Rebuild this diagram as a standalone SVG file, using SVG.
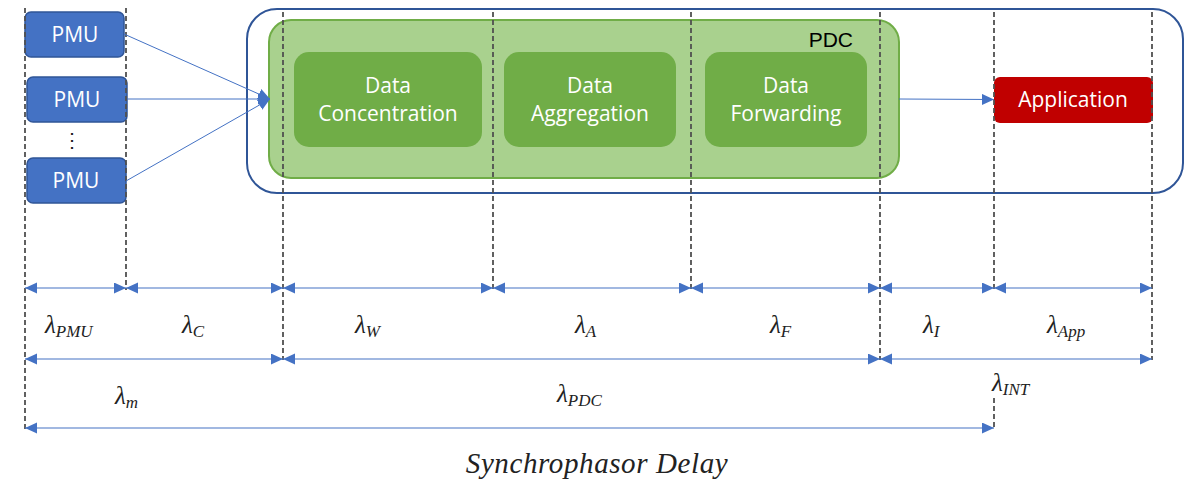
<svg xmlns="http://www.w3.org/2000/svg" width="1192" height="482" viewBox="0 0 1192 482">
<defs>
<marker id="ah" markerUnits="userSpaceOnUse" markerWidth="13" markerHeight="12" refX="12" refY="5.5" orient="auto-start-reverse">
<path d="M0,0 L12,5.5 L0,11 z" fill="#4472C4"/>
</marker>
</defs>
<style>
.dash{stroke:#505050;stroke-width:1.8;stroke-dasharray:5,3;fill:none}
.dim{stroke:#4472C4;stroke-width:1.2;fill:none;marker-start:url(#ah);marker-end:url(#ah)}
.con{stroke:#4472C4;stroke-width:1;fill:none;marker-end:url(#ah)}
.pmu{fill:#4472C4;stroke:#2F5597;stroke-width:1.5}
.wt{font-family:"Open Sans","Noto Sans",sans-serif;font-size:21px;fill:#fff;text-anchor:middle}
.sub{fill:#70AD47}
.lam{font-family:"Liberation Serif","DejaVu Serif",serif;font-style:italic;font-size:25px;fill:#222}
.lam tspan.s{font-size:17px}
</style>
<g id="outer">
<rect x="247" y="9" width="936" height="184" rx="30" fill="none" stroke="#2F5597" stroke-width="2"/>
</g>
<g id="pdc">
<rect x="269" y="20" width="630" height="158" rx="22" fill="#A9D18E" stroke="#70AD47" stroke-width="2"/>
<text x="853" y="47" text-anchor="end" font-family="Liberation Sans,Arial,sans-serif" font-size="21" fill="#000">PDC</text>
</g>
<g id="concentration">
<rect class="sub" x="294" y="52" width="188" height="95" rx="15"/>
<text class="wt" x="388" y="93">Data</text>
<text class="wt" x="388" y="121">Concentration</text>
</g>
<g id="aggregation">
<rect class="sub" x="504" y="52" width="172" height="95" rx="15"/>
<text class="wt" x="590" y="93">Data</text>
<text class="wt" x="590" y="121">Aggregation</text>
</g>
<g id="forwarding">
<rect class="sub" x="705" y="52" width="162" height="95" rx="15"/>
<text class="wt" x="786" y="93">Data</text>
<text class="wt" x="786" y="121">Forwarding</text>
</g>
<g id="application">
<rect x="994" y="77" width="159" height="46" rx="6" fill="#C00000"/>
<text class="wt" x="1073" y="107">Application</text>
</g>
<g id="pmu1">
<rect class="pmu" x="25" y="12" width="99" height="45" rx="6"/>
<text class="wt" x="75" y="42">PMU</text>
</g>
<g id="pmu2">
<rect class="pmu" x="27" y="77" width="100" height="45" rx="6"/>
<text class="wt" x="77" y="107">PMU</text>
</g>
<g id="dots">
<text x="72" y="147" text-anchor="middle" font-family="Liberation Sans,Arial,sans-serif" font-size="20" fill="#222">⋮</text>
</g>
<g id="pmu3">
<rect class="pmu" x="27" y="158" width="99" height="45" rx="6"/>
<text class="wt" x="76" y="188">PMU</text>
</g>
<g id="guides">
<line class="dash" x1="25" y1="8" x2="25" y2="430"/>
<line class="dash" x1="126" y1="8" x2="126" y2="290"/>
<line class="dash" x1="283" y1="12" x2="283" y2="360"/>
<line class="dash" x1="493" y1="12" x2="493" y2="290"/>
<line class="dash" x1="691" y1="12" x2="691" y2="290"/>
<line class="dash" x1="880" y1="12" x2="880" y2="360"/>
<line class="dash" x1="994" y1="12" x2="994" y2="290"/>
<line class="dash" x1="1152" y1="12" x2="1152" y2="360"/>
<line class="dash" x1="994" y1="398" x2="994" y2="428"/>
</g>
<g id="connectors">
<line class="con" x1="124" y1="34" x2="270" y2="99"/>
<line class="con" x1="127" y1="99" x2="270" y2="99"/>
<line class="con" x1="126" y1="181" x2="270" y2="99"/>
<line class="con" x1="899" y1="99" x2="994" y2="99.5"/>
<line class="dim" x1="25" y1="288" x2="126" y2="288"/>
<line class="dim" x1="126" y1="288" x2="283" y2="288"/>
<line class="dim" x1="283" y1="288" x2="493" y2="288"/>
<line class="dim" x1="493" y1="288" x2="691" y2="288"/>
<line class="dim" x1="691" y1="288" x2="880" y2="288"/>
<line class="dim" x1="880" y1="288" x2="994" y2="288"/>
<line class="dim" x1="994" y1="288" x2="1152" y2="288"/>
<line class="dim" x1="25" y1="359" x2="283" y2="359"/>
<line class="dim" x1="283" y1="359" x2="880" y2="359"/>
<line class="dim" x1="880" y1="359" x2="1152" y2="359"/>
<line class="dim" x1="25" y1="428" x2="994" y2="428"/>
</g>
<g id="labels">
<text class="lam" x="45" y="333">λ<tspan class="s" dy="4">PMU</tspan></text>
<text class="lam" x="182" y="333">λ<tspan class="s" dy="4">C</tspan></text>
<text class="lam" x="355" y="333">λ<tspan class="s" dy="4">W</tspan></text>
<text class="lam" x="575" y="333">λ<tspan class="s" dy="4">A</tspan></text>
<text class="lam" x="770" y="333">λ<tspan class="s" dy="4">F</tspan></text>
<text class="lam" x="923" y="333">λ<tspan class="s" dy="4">I</tspan></text>
<text class="lam" x="1047" y="333">λ<tspan class="s" dy="4">App</tspan></text>
<text class="lam" x="115" y="404">λ<tspan class="s" dy="4">m</tspan></text>
<text class="lam" x="557" y="402">λ<tspan class="s" dy="4">PDC</tspan></text>
<text class="lam" x="992" y="391">λ<tspan class="s" dy="4">INT</tspan></text>
<text class="lam" x="597" y="473" text-anchor="middle" style="font-size:29px;letter-spacing:0.6px">Synchrophasor Delay</text>
</g>
</svg>
